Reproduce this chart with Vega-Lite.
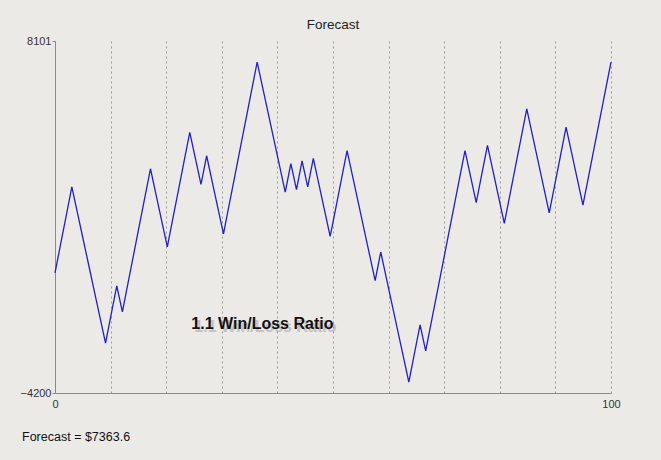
{
  "$schema": "https://vega.github.io/schema/vega-lite/v6.json",
  "width": 556,
  "height": 352,
  "autosize": "none",
  "padding": {"left": 55, "top": 41, "right": 50, "bottom": 67},
  "background": "#ECEAE7",
  "config": {"view": {"stroke": null}, "font": "Liberation Sans"},
  "title": {"text": "Forecast", "fontSize": 13.5, "fontWeight": "normal", "color": "#222", "offset": 4, "anchor": "middle", "font": "Liberation Sans"},
  "data": {"values": [
    {"x": 0, "v": 0}, {"x": 1.01, "v": 1000}, {"x": 2.02, "v": 2000}, {"x": 3.03, "v": 3000},
    {"x": 4.04, "v": 2090.91}, {"x": 5.05, "v": 1181.82}, {"x": 6.06, "v": 272.73}, {"x": 7.07, "v": -636.36},
    {"x": 8.08, "v": -1545.45}, {"x": 9.09, "v": -2454.55}, {"x": 10.1, "v": -1454.55}, {"x": 11.11, "v": -454.55},
    {"x": 12.12, "v": -1363.64}, {"x": 13.13, "v": -363.64}, {"x": 14.14, "v": 636.36}, {"x": 15.15, "v": 1636.36},
    {"x": 16.16, "v": 2636.36}, {"x": 17.17, "v": 3636.36}, {"x": 18.18, "v": 2727.27}, {"x": 19.19, "v": 1818.18},
    {"x": 20.2, "v": 909.09}, {"x": 21.21, "v": 1909.09}, {"x": 22.22, "v": 2909.09}, {"x": 23.23, "v": 3909.09},
    {"x": 24.24, "v": 4909.09}, {"x": 25.25, "v": 4000}, {"x": 26.26, "v": 3090.91}, {"x": 27.27, "v": 4090.91},
    {"x": 28.28, "v": 3181.82}, {"x": 29.29, "v": 2272.73}, {"x": 30.3, "v": 1363.64}, {"x": 31.31, "v": 2363.64},
    {"x": 32.32, "v": 3363.64}, {"x": 33.33, "v": 4363.64}, {"x": 34.34, "v": 5363.64}, {"x": 35.35, "v": 6363.64},
    {"x": 36.36, "v": 7363.64}, {"x": 37.37, "v": 6454.55}, {"x": 38.38, "v": 5545.45}, {"x": 39.39, "v": 4636.36},
    {"x": 40.4, "v": 3727.27}, {"x": 41.41, "v": 2818.18}, {"x": 42.42, "v": 3818.18}, {"x": 43.43, "v": 2909.09},
    {"x": 44.44, "v": 3909.09}, {"x": 45.45, "v": 3000}, {"x": 46.46, "v": 4000}, {"x": 47.47, "v": 3090.91},
    {"x": 48.48, "v": 2181.82}, {"x": 49.49, "v": 1272.73}, {"x": 50.51, "v": 2272.73}, {"x": 51.52, "v": 3272.73},
    {"x": 52.53, "v": 4272.73}, {"x": 53.54, "v": 3363.64}, {"x": 54.55, "v": 2454.55}, {"x": 55.56, "v": 1545.45},
    {"x": 56.57, "v": 636.36}, {"x": 57.58, "v": -272.73}, {"x": 58.59, "v": 727.27}, {"x": 59.6, "v": -181.82},
    {"x": 60.61, "v": -1090.91}, {"x": 61.62, "v": -2000}, {"x": 62.63, "v": -2909.09}, {"x": 63.64, "v": -3818.18},
    {"x": 64.65, "v": -2818.18}, {"x": 65.66, "v": -1818.18}, {"x": 66.67, "v": -2727.27}, {"x": 67.68, "v": -1727.27},
    {"x": 68.69, "v": -727.27}, {"x": 69.7, "v": 272.73}, {"x": 70.71, "v": 1272.73}, {"x": 71.72, "v": 2272.73},
    {"x": 72.73, "v": 3272.73}, {"x": 73.74, "v": 4272.73}, {"x": 74.75, "v": 3363.64}, {"x": 75.76, "v": 2454.55},
    {"x": 76.77, "v": 3454.55}, {"x": 77.78, "v": 4454.55}, {"x": 78.79, "v": 3545.45}, {"x": 79.8, "v": 2636.36},
    {"x": 80.81, "v": 1727.27}, {"x": 81.82, "v": 2727.27}, {"x": 82.83, "v": 3727.27}, {"x": 83.84, "v": 4727.27},
    {"x": 84.85, "v": 5727.27}, {"x": 85.86, "v": 4818.18}, {"x": 86.87, "v": 3909.09}, {"x": 87.88, "v": 3000},
    {"x": 88.89, "v": 2090.91}, {"x": 89.9, "v": 3090.91}, {"x": 90.91, "v": 4090.91}, {"x": 91.92, "v": 5090.91},
    {"x": 92.93, "v": 4181.82}, {"x": 93.94, "v": 3272.73}, {"x": 94.95, "v": 2363.64}, {"x": 95.96, "v": 3363.64},
    {"x": 96.97, "v": 4363.64}, {"x": 97.98, "v": 5363.64}, {"x": 98.99, "v": 6363.64}, {"x": 100, "v": 7363.64}
  ]},
  "layer": [
    {
      "mark": {"type": "line", "color": "#1f1fcc", "strokeWidth": 1.3},
      "encoding": {
        "x": {"field": "x", "type": "quantitative",
          "scale": {"domain": [0, 100], "nice": false, "zero": false},
          "axis": {"title": null, "values": [0, 10, 20, 30, 40, 50, 60, 70, 80, 90, 100],
            "labelExpr": "datum.value == 0 || datum.value == 100 ? datum.label : ''",
            "grid": true, "gridDash": [2, 3], "gridColor": "#9a9a9a", "gridWidth": 1,
            "ticks": false, "domainColor": "#8a8a8a", "labelFontSize": 11, "labelColor": "#333",
            "labelFlush": false, "labelPadding": 5, "labelFont": "Liberation Sans"}},
        "y": {"field": "v", "type": "quantitative",
          "scale": {"domain": [-4200, 8101], "nice": false, "zero": false},
          "axis": {"title": null, "values": [-4200, 8101], "grid": false, "tickSize": 3,
            "tickColor": "#8a8a8a", "domainColor": "#8a8a8a", "labelFontSize": 11, "labelColor": "#333",
            "labelPadding": 1, "labelFont": "Liberation Sans", "format": "d"}}
      }
    },
    {
      "data": {"values": [{}]},
      "mark": {"type": "text", "text": "1.1 Win/Loss Ratio", "fontSize": 16, "fontWeight": "bold", "font": "Liberation Sans", "color": "#666", "opacity": 0.3, "dx": 3, "dy": 3, "align": "center", "baseline": "middle"},
      "encoding": {"x": {"datum": 37.3}, "y": {"datum": -1790}}
    },
    {
      "data": {"values": [{}]},
      "mark": {"type": "text", "text": "1.1 Win/Loss Ratio", "fontSize": 16, "fontWeight": "bold", "font": "Liberation Sans", "color": "#111", "align": "center", "baseline": "middle"},
      "encoding": {"x": {"datum": 37.3}, "y": {"datum": -1790}}
    },
    {
      "data": {"values": [{}]},
      "mark": {"type": "text", "text": "Forecast = $7363.6", "fontSize": 12.5, "font": "Liberation Sans", "color": "#111", "align": "left", "baseline": "middle"},
      "encoding": {"x": {"datum": -5.93}, "y": {"datum": -5739}}
    }
  ]
}
